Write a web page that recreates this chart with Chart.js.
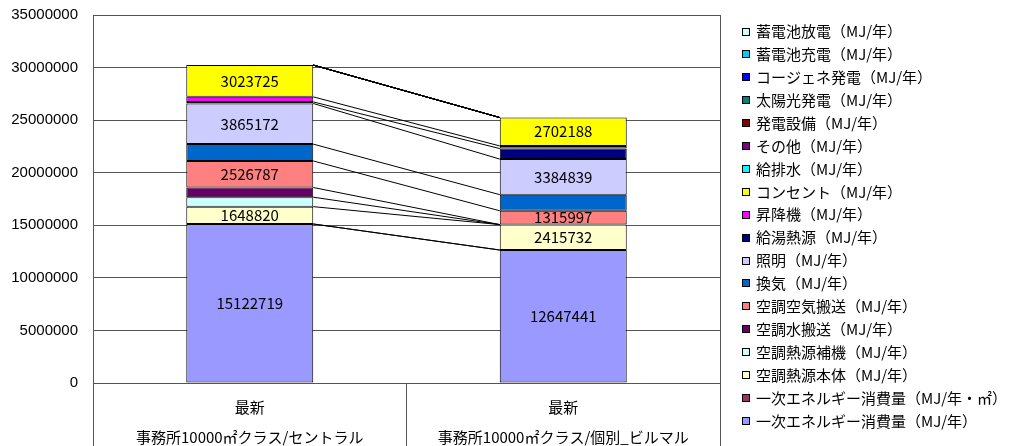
<!DOCTYPE html>
<html lang="ja">
<head>
<meta charset="UTF-8">
<title>一次エネルギー消費量</title>
<script src="https://cdn.jsdelivr.net/npm/chart.js"></script>
<style>
  html, body { margin: 0; padding: 0; background: #fff; overflow: hidden; }
  #chart { display: block; }
</style>
</head>
<body>
<canvas id="chart" width="1010" height="446"></canvas>
<script>
// カテゴリ（上段・下段）
var categoryTop = ['最新', '最新'];
var categoryBottom = ['事務所10000㎡クラス/セントラル', '事務所10000㎡クラス/個別_ビルマル'];

// 系列（下から積み上げ順）
var seriesNames = [
    '一次エネルギー消費量（MJ/年）',
    '一次エネルギー消費量（MJ/年・㎡）',
    '空調熱源本体（MJ/年）',
    '空調熱源補機（MJ/年）',
    '空調水搬送（MJ/年）',
    '空調空気搬送（MJ/年）',
    '換気（MJ/年）',
    '照明（MJ/年）',
    '給湯熱源（MJ/年）',
    '昇降機（MJ/年）',
    'コンセント（MJ/年）',
    '給排水（MJ/年）',
    'その他（MJ/年）',
    '発電設備（MJ/年）',
    '太陽光発電（MJ/年）',
    'コージェネ発電（MJ/年）',
    '蓄電池充電（MJ/年）',
    '蓄電池放電（MJ/年）'
];

var seriesColors = [
    '#9999FF', '#993366', '#FFFFCC', '#CCFFFF', '#660066', '#FF8080',
    '#0066CC', '#CCCCFF', '#000080', '#FF00FF', '#FFFF00', '#00FFFF',
    '#800080', '#800000', '#008080', '#0000FF', '#00CCFF', '#CCFFFF'
];

var seriesValues = [
    [15122719, 12647441],
    [1512, 1265],
    [1648820, 2415732],
    [900000, 0],
    [920000, 0],
    [2526787, 1315997],
    [1600000, 1530000],
    [3865172, 3384839],
    [150000, 1000000],
    [480000, 250000],
    [3023725, 2702188],
    [0, 0],
    [0, 0],
    [0, 0],
    [0, 0],
    [0, 0],
    [0, 0],
    [0, 0]
];

// 値ラベルを表示する系列
var labelledSeries = [0, 2, 5, 7, 10];

var yTicks = { min: 0, max: 35000000, step: 5000000 };

var datasets = seriesNames.map(function (name, i) {
    return {
        label: name,
        data: seriesValues[i],
        backgroundColor: seriesColors[i],
        borderColor: '#000000',
        borderWidth: 1,
        borderSkipped: false,
        barPercentage: 1,
        categoryPercentage: 0.405
    };
});

var FONT = '15px "Noto Sans CJK JP"';

// 区分線（系列線）
var seriesLinesPlugin = {
    id: 'seriesLines',
    afterDatasetsDraw: function (chart) {
        var ctx = chart.ctx;
        ctx.save();
        ctx.strokeStyle = '#000000';
        ctx.lineWidth = 1;
        chart.data.datasets.forEach(function (ds, i) {
            var meta = chart.getDatasetMeta(i);
            var a = meta.data[0], b = meta.data[1];
            if (!a || !b) return;
            ctx.beginPath();
            ctx.moveTo(a.x + a.width / 2, a.y);
            ctx.lineTo(b.x - b.width / 2, b.y);
            ctx.stroke();
        });
        ctx.restore();
    }
};

// 値ラベル
var valueLabelsPlugin = {
    id: 'valueLabels',
    afterDatasetsDraw: function (chart) {
        var ctx = chart.ctx;
        ctx.save();
        ctx.font = FONT;
        ctx.fillStyle = '#000000';
        ctx.textAlign = 'center';
        ctx.textBaseline = 'middle';
        labelledSeries.forEach(function (i) {
            var meta = chart.getDatasetMeta(i);
            meta.data.forEach(function (el, j) {
                var v = chart.data.datasets[i].data[j];
                ctx.fillText(String(v), el.x, (el.y + el.base) / 2);
            });
        });
        ctx.restore();
    }
};

// プロットエリア枠・項目名・凡例
var framePlugin = {
    id: 'frame',
    beforeDatasetsDraw: function (chart) {
        var a = chart.chartArea, ctx = chart.ctx;
        ctx.save();
        ctx.strokeStyle = '#555555';
        ctx.lineWidth = 1;
        ctx.strokeRect(a.left + 0.5, a.top + 0.5, a.right - a.left, a.bottom - a.top);
        ctx.restore();
    },
    afterDraw: function (chart) {
        var ctx = chart.ctx, xs = chart.scales.x;
        ctx.save();
        ctx.font = FONT;
        ctx.fillStyle = '#000000';
        ctx.textAlign = 'center';
        ctx.textBaseline = 'middle';
        categoryTop.forEach(function (t, i) {
            var x = xs.getPixelForValue(i);
            ctx.fillText(t, x, xs.top + 24);
            ctx.fillText(categoryBottom[i], x, xs.top + 54);
        });

        // 凡例（上から逆順）
        var boxX = chart.chartArea.right + 22, textX = boxX + 14;
        var y0 = 31.5, step = 22.9;
        ctx.textAlign = 'left';
        ctx.lineWidth = 1;
        ctx.strokeStyle = '#000000';
        var ds = chart.data.datasets;
        for (var k = 0; k < ds.length; k++) {
            var d = ds[ds.length - 1 - k];
            var y = y0 + k * step;
            var by = Math.round(y - 4);
            ctx.fillStyle = d.backgroundColor;
            ctx.fillRect(boxX, by, 8, 8);
            ctx.strokeRect(boxX + 0.5, by + 0.5, 7, 7);
            ctx.fillStyle = '#000000';
            ctx.fillText(d.label, textX, y);
        }
        ctx.restore();
    }
};

new Chart(document.getElementById('chart'), {
    type: 'bar',
    data: { labels: categoryTop, datasets: datasets },
    plugins: [framePlugin, seriesLinesPlugin, valueLabelsPlugin],
    options: {
        responsive: false,
        animation: false,
        devicePixelRatio: 1,
        layout: { padding: { left: 0, top: 15, right: 290, bottom: 0 } },
        plugins: {
            tooltip: { enabled: false },
            legend: { display: false }
        },
        scales: {
            x: {
                stacked: true,
                grid: {
                    offset: true,
                    drawOnChartArea: false,
                    drawTicks: true,
                    tickLength: 63,
                    color: '#555555'
                },
                border: { color: '#000000', width: 1 },
                ticks: { display: false }
            },
            y: {
                stacked: true,
                min: yTicks.min,
                max: yTicks.max,
                grid: { color: '#555555', drawTicks: false },
                border: { color: '#000000', width: 1 },
                ticks: {
                    stepSize: yTicks.step,
                    padding: 15,
                    color: '#000000',
                    font: { family: 'Arial, "Liberation Sans"', size: 15 },
                    callback: function (v) { return String(v); }
                },
                afterFit: function (scale) {
                    scale.width = 93;
                    scale.paddingTop = 0;
                    scale.paddingBottom = 0;
                }
            }
        }
    }
});
</script>
</body>
</html>
